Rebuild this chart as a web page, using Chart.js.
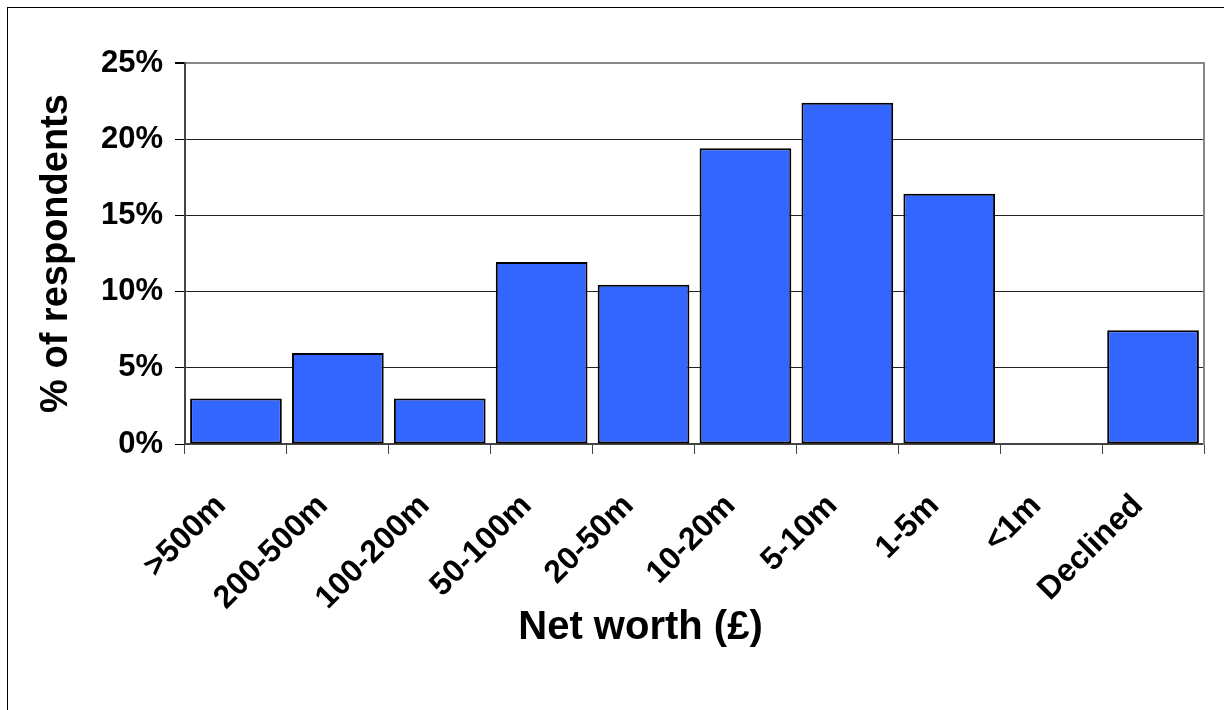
<!DOCTYPE html>
<html lang="en">
  <head>
    <meta charset="UTF-8" />
    <title>Net worth of respondents</title>
    <script src="https://cdn.jsdelivr.net/npm/chart.js"></script>
    <style>
      html, body { margin: 0; padding: 0; background: #fff; overflow: hidden; }
      #frame {
        position: absolute; left: 7px; top: 7px; width: 1400px; height: 900px;
        border: 1px solid #000;
      }
      #chart { position: absolute; left: 0; top: 0; }
    </style>
  </head>
  <body>
    <div id="frame"></div>
    <canvas id="chart" width="1224" height="710"></canvas>

    <script>
      // net worth bands and share of respondents (%)
      const bands = [">500m", "200-500m", "100-200m", "50-100m", "20-50m", "10-20m", "5-10m", "1-5m", "<1m", "Declined"];
      const shares = [2.99, 5.97, 2.99, 11.94, 10.45, 19.40, 22.39, 16.42, 0, 7.46];
      const yTicks = [0, 5, 10, 15, 20, 25];

      const FONT = "'Liberation Sans', Arial, Helvetica, sans-serif";

      // move the x axis title left so it sits where the original one does
      const titleShift = {
        id: "titleShift",
        afterLayout(chart, args, opts) {
          const scale = chart.scales.x;
          if (scale._shifted) return;
          const orig = scale.drawTitle;
          scale.drawTitle = function () {
            this.ctx.save();
            this.ctx.translate(opts.dx, 0);
            orig.call(this);
            this.ctx.restore();
          };
          scale._shifted = true;
        },
      };

      new Chart(document.getElementById("chart"), {
        type: "bar",
        data: {
          labels: bands,
          datasets: [
            {
              data: shares,
              backgroundColor: "#3366ff",
              borderColor: "#000",
              borderWidth: 2,
              borderSkipped: false,
              barPercentage: 0.9,
              categoryPercentage: 1.0,
            },
          ],
        },
        options: {
          responsive: false,
          animation: false,
          layout: { padding: { left: 0, right: 20, top: 63, bottom: 0 } },
          plugins: {
            legend: { display: false },
            tooltip: { enabled: false },
            titleShift: { dx: -54 },
          },
          scales: {
            x: {
              afterFit: (s) => { s.height = 266; },
              grid: { drawOnChartArea: false, tickLength: 10, tickColor: "#444", lineWidth: 1 },
              border: { color: "#444", width: 2 },
              ticks: {
                autoSkip: false,
                minRotation: 45,
                maxRotation: 45,
                padding: 33,
                labelOffset: -15,
                color: "#000",
                font: { family: FONT, size: 32, weight: "bold" },
              },
              title: {
                display: true,
                text: "Net worth (£)",
                color: "#000",
                font: { family: FONT, size: 40, weight: "bold" },
                padding: { top: 0, bottom: 58 },
              },
            },
            y: {
              min: 0,
              max: 25,
              afterFit: (s) => { s.width = 185; },
              afterBuildTicks: (s) => { s.ticks = yTicks.map((v) => ({ value: v })); },
              grid: {
                color: (c) => (c.tick && c.tick.value === 25 ? "#888" : "#222"),
                lineWidth: (c) => (c.tick && c.tick.value === 25 ? 2 : 1),
                tickLength: 10,
                tickColor: "#000",
              },
              border: { color: "#444", width: 2 },
              ticks: {
                padding: 12,
                color: "#000",
                font: { family: FONT, size: 31, weight: "bold" },
                callback: (v) => v + "%",
              },
              title: {
                display: true,
                text: "% of respondents",
                color: "#000",
                font: { family: FONT, size: 38, weight: "bold" },
                padding: { top: 34, bottom: 0 },
              },
            },
            y2: {
              position: "right",
              min: 0,
              max: 25,
              afterFit: (s) => { s.width = 0; },
              ticks: { display: false },
              grid: { drawOnChartArea: false, drawTicks: false },
              border: { color: "#888", width: 2 },
            },
          },
        },
        plugins: [titleShift],
      });
    </script>
  </body>
</html>
